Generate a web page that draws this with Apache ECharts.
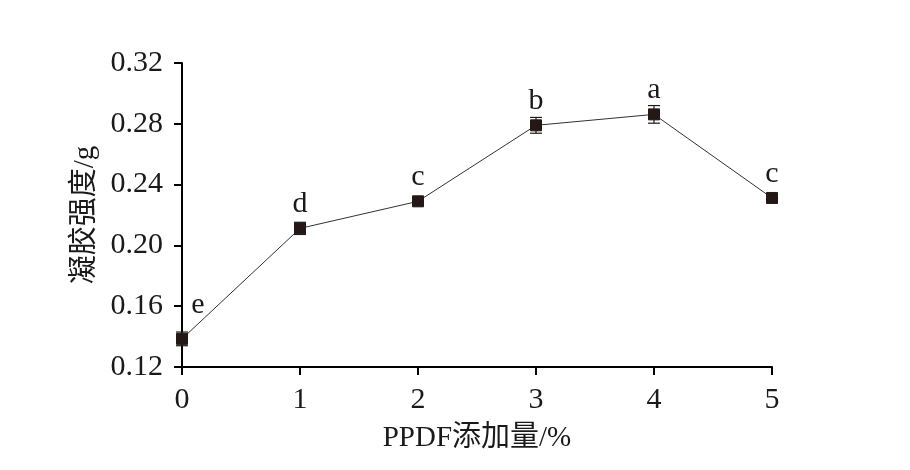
<!DOCTYPE html>
<html>
<head>
<meta charset="utf-8">
<script src="https://cdn.jsdelivr.net/npm/echarts@6/dist/echarts.min.js"></script>
<style>html,body{margin:0;padding:0;background:#fff}#c{width:910px;height:470px}</style>
</head>
<body>
<div id="c"></div>
<script>
var doses = [0, 1, 2, 3, 4, 5];
var strength = [0.1385, 0.2112, 0.2290, 0.2790, 0.2862, 0.2312];
var errors = [0.0045, 0.0040, 0.0020, 0.0052, 0.0058, 0.0020];
var letters = ['e', 'd', 'c', 'b', 'a', 'c'];
var yTicks = ['0.12', '0.16', '0.20', '0.24', '0.28', '0.32'];

var FONT = '"Liberation Serif", "Noto Sans CJK SC", serif';
var chart = echarts.init(document.getElementById('c'), null, {renderer: 'canvas'});

var lineData = doses.map(function (d, i) {
  var item = {value: [d, strength[i]]};
  if (i === 0) {
    item.label = {position: 'top', offset: [16, -10]};
  }
  return item;
});
var errData = doses.map(function (d, i) {
  return [d, strength[i] - errors[i], strength[i] + errors[i]];
});

chart.setOption({
  animation: false,
  backgroundColor: '#fff',
  grid: {left: 182, right: 138, top: 63, bottom: 103, containLabel: false},
  xAxis: {
    type: 'value', min: 0, max: 5, interval: 1,
    name: 'PPDF添加量/%', nameLocation: 'middle', nameGap: 57,
    nameTextStyle: {fontFamily: FONT, fontSize: 29, color: '#1a1a1a'},
    axisLine: {show: true, onZero: false, lineStyle: {color: '#000', width: 2}},
    axisTick: {show: true, inside: false, length: 8, lineStyle: {color: '#000', width: 2}},
    axisLabel: {fontFamily: FONT, fontSize: 30, color: '#1a1a1a', margin: 18},
    splitLine: {show: false}
  },
  yAxis: {
    type: 'value', min: 0.12, max: 0.32, interval: 0.04,
    name: '凝胶强度/g', nameLocation: 'middle', nameGap: 79, nameRotate: 90,
    nameTextStyle: {fontFamily: FONT, fontSize: 29, color: '#1a1a1a'},
    axisLine: {show: true, onZero: false, lineStyle: {color: '#000', width: 2}},
    axisTick: {show: true, inside: false, length: 8, lineStyle: {color: '#000', width: 2}},
    axisLabel: {
      fontFamily: FONT, fontSize: 30, color: '#1a1a1a', margin: 19,
      formatter: function (v) {
        var idx = Math.round((v - 0.12) / 0.04);
        return yTicks[idx];
      }
    },
    splitLine: {show: false}
  },
  series: [
    {
      type: 'custom',
      z: 3,
      data: errData,
      renderItem: function (params, api) {
        var x = api.value(0);
        var lo = api.coord([x, api.value(1)]);
        var hi = api.coord([x, api.value(2)]);
        var cw = 6;
        var st = {stroke: '#1a1a1a', lineWidth: 1.2};
        return {
          type: 'group',
          children: [
            {type: 'line', shape: {x1: lo[0], y1: lo[1], x2: hi[0], y2: hi[1]}, style: st},
            {type: 'line', shape: {x1: lo[0] - cw, y1: lo[1], x2: lo[0] + cw, y2: lo[1]}, style: st},
            {type: 'line', shape: {x1: hi[0] - cw, y1: hi[1], x2: hi[0] + cw, y2: hi[1]}, style: st}
          ]
        };
      }
    },
    {
      type: 'line',
      z: 4,
      data: lineData,
      symbol: 'rect',
      symbolSize: 11,
      itemStyle: {color: '#231815', borderColor: '#231815'},
      lineStyle: {color: '#333', width: 1},
      label: {
        show: true, position: 'top', distance: 3,
        fontFamily: FONT, fontSize: 30, color: '#1a1a1a',
        formatter: function (p) { return letters[p.dataIndex]; }
      }
    }
  ]
});
</script>
</body>
</html>
